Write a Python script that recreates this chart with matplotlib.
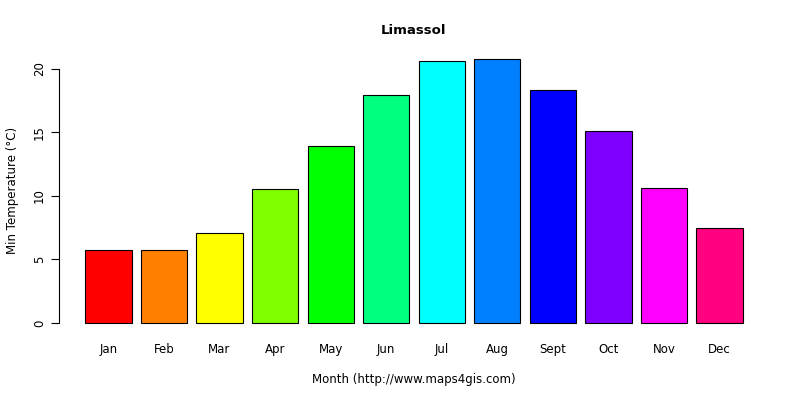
import matplotlib.pyplot as plt
import numpy as np

months = ['Jan', 'Feb', 'Mar', 'Apr', 'May', 'Jun', 'Jul', 'Aug', 'Sept', 'Oct', 'Nov', 'Dec']
min_temp = [5.7, 5.7, 7.1, 10.5, 13.9, 17.9, 20.6, 20.8, 18.3, 15.1, 10.6, 7.5]
colors = ['#FF0000', '#FF8000', '#FFFF00', '#80FF00', '#00FF00', '#00FF80',
          '#00FFFF', '#0080FF', '#0000FF', '#8000FF', '#FF00FF', '#FF0080']

fig = plt.figure(figsize=(8, 4), dpi=100)
ax = fig.add_axes([59 / 800, 1 - 333.5 / 400, 710 / 800, 285.5 / 400])

x = 0.7 + 1.2 * np.arange(len(months))
ax.bar(x, min_temp, width=1.0, color=colors, edgecolor='black', linewidth=0.8)
ax.set_xlim(-0.368, 14.968)
ax.set_ylim(-0.83, 21.63)

for s in ['top', 'right', 'bottom']:
    ax.spines[s].set_visible(False)
ax.spines['left'].set_bounds(0, 20)
ax.set_yticks([0, 5, 10, 15, 20])
ax.set_yticklabels(['0', '5', '10', '15', '20'], rotation=90, va='center', fontsize=8.5)
ax.set_xticks(x)
ax.set_xticklabels(months, fontsize=8.5)
ax.tick_params(axis='x', length=0, pad=7)
ax.tick_params(axis='y', length=6)

ax.set_title('Limassol', fontweight='bold', fontsize=9.5, pad=10)
ax.set_xlabel('Month (http://www.maps4gis.com)', fontsize=8.5, labelpad=12)
ax.set_ylabel('Min Temperature (°C)', fontsize=8.5, labelpad=10)

fig.savefig('out.png', dpi=100)
